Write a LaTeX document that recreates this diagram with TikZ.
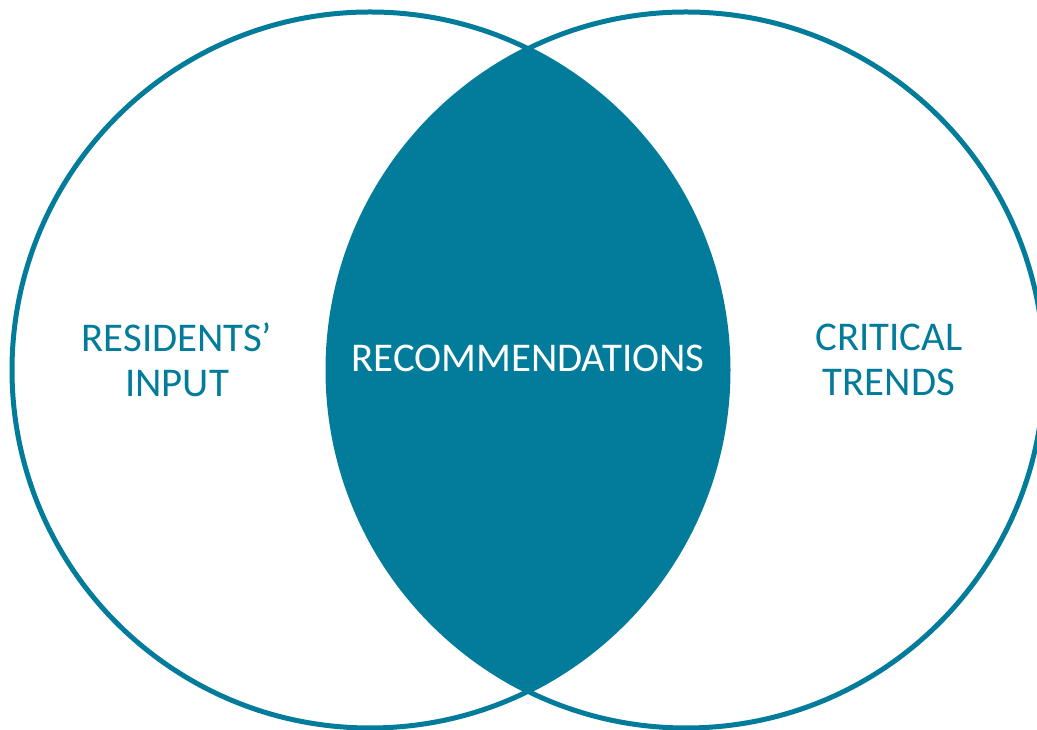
\documentclass[tikz,border=0pt]{standalone}
\usepackage{fontspec}
\setmainfont{Carlito}
\definecolor{teal1}{RGB}{2,124,154}
\begin{document}
\begin{tikzpicture}[x=1pt,y=1pt,
  ring/.style={draw=teal1,line width=5pt},
  lbl/.style={text=teal1,font=\fontsize{40.8}{45}\selectfont,align=center,inner sep=0pt}]
\useasboundingbox (0,0) rectangle (1037,730);
\coordinate (cl) at (370,360);
\coordinate (cr) at (686,360);
\begin{scope}
  \clip (cl) circle (358);
  \fill[teal1] (cr) circle (358);
\end{scope}
\draw[ring] (cl) circle (358);
\draw[ring] (cr) circle (358);
\node[lbl] (res) at (177,370) {RESIDENTS’\\INPUT};
\node[lbl,text=white] (rec) at (528,372) {RECOMMENDATIONS};
\node[lbl] (crit) at (889,370) {CRITICAL\\TRENDS};
\end{tikzpicture}
\end{document}
